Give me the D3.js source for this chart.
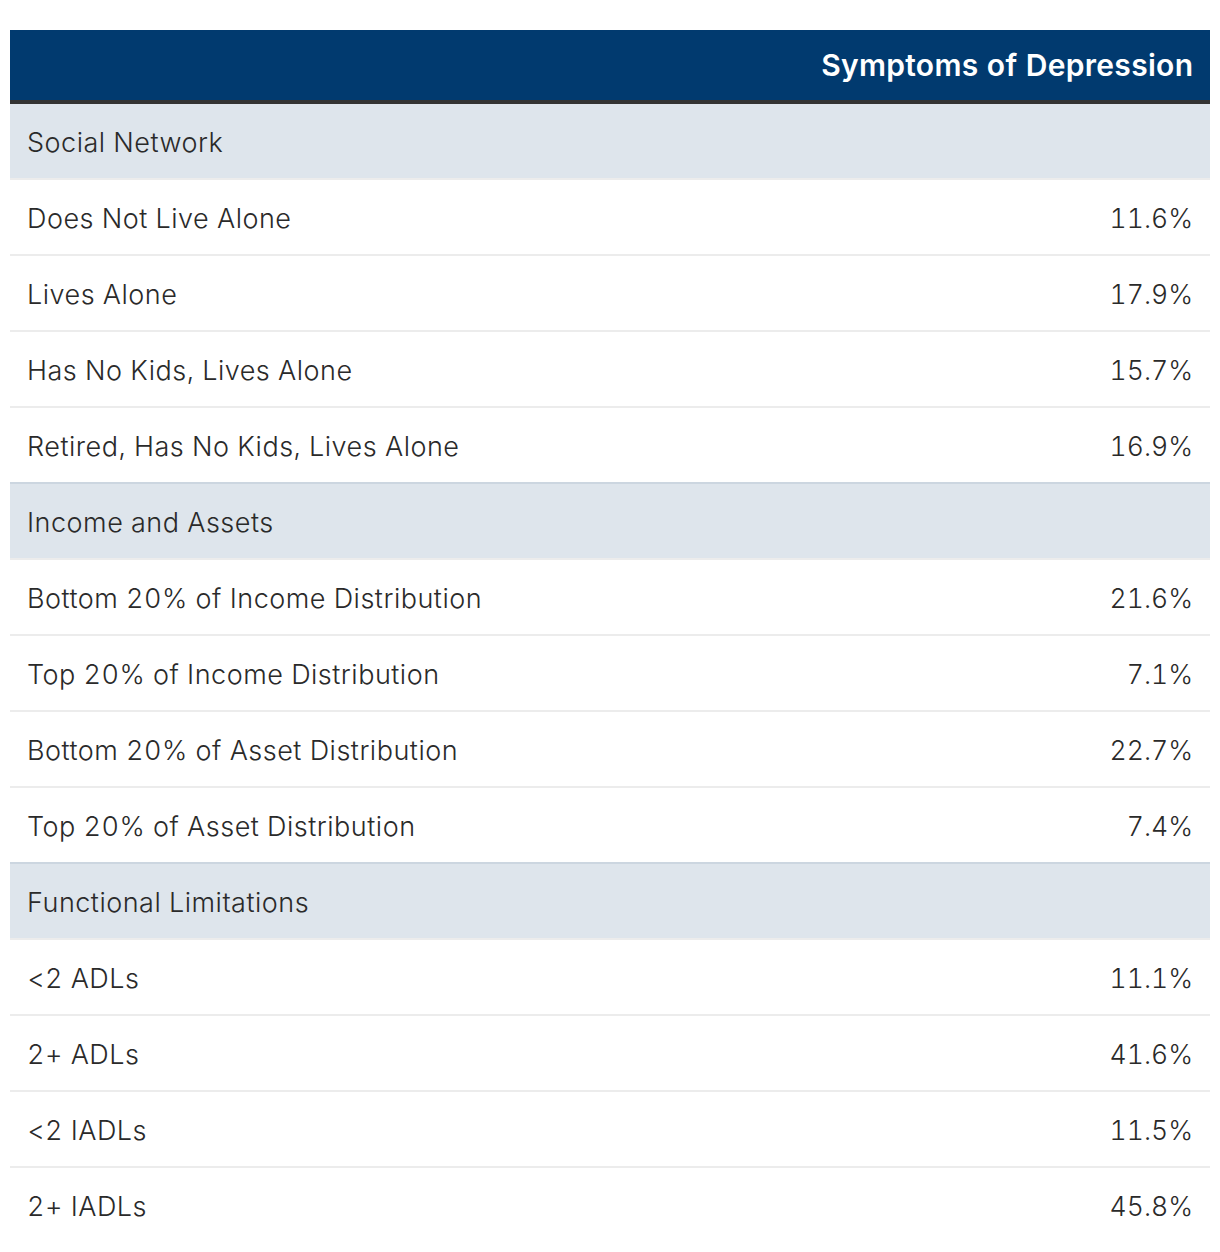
<!DOCTYPE html>
<html><head><meta charset="utf-8">
<script src="https://cdn.jsdelivr.net/npm/d3@7"></script>
<style>body{margin:0;background:#fff;font-family:Inter,"Noto Sans",sans-serif;}
text{font-variant-numeric:tabular-nums;font-feature-settings:"tnum" 1;}</style>
</head><body>
<svg id="chart" width="1220" height="1252"></svg>
<script>
const headerTitle = "Symptoms of Depression";
const sections = ["Social Network", "Income and Assets", "Functional Limitations"];
const labels = [
  ["Does Not Live Alone", "Lives Alone", "Has No Kids, Lives Alone", "Retired, Has No Kids, Lives Alone"],
  ["Bottom 20% of Income Distribution", "Top 20% of Income Distribution", "Bottom 20% of Asset Distribution", "Top 20% of Asset Distribution"],
  ["<2 ADLs", "2+ ADLs", "<2 IADLs", "2+ IADLs"]
];
const values = [
  [11.6, 17.9, 15.7, 16.9],
  [21.6, 7.1, 22.7, 7.4],
  [11.1, 41.6, 11.5, 45.8]
];

const rows = [];
sections.forEach((s, i) => {
  rows.push({type: "section", label: s});
  labels[i].forEach((l, j) => rows.push({type: "row", label: l, value: values[i][j]}));
});

const svg = d3.select("#chart");
const xLeft = 10, xRight = 1210, yTop = 30, headH = 70, borderH = 4, rowH = 76;
const ls = 0.5, lsv = 0;
const y = d3.scaleBand().domain(d3.range(rows.length)).range([yTop + headH + borderH, yTop + headH + borderH + rows.length * rowH]);

svg.append("rect").attr("x", xLeft).attr("y", yTop).attr("width", xRight - xLeft).attr("height", headH).attr("fill", "#013a6f");
svg.append("rect").attr("x", xLeft).attr("y", yTop + headH).attr("width", xRight - xLeft).attr("height", borderH).attr("fill", "#333333");
svg.append("text").attr("x", xRight - 17 + 0.3).attr("y", yTop + headH / 2 + 11)
  .attr("text-anchor", "end").attr("fill", "#fff").attr("font-size", 30).attr("font-weight", 600)
  .attr("letter-spacing", 0.3)
  .text(headerTitle);

const g = svg.selectAll("g.row").data(rows).join("g").attr("class", "row")
  .attr("transform", (d, i) => `translate(0,${y(i)})`);

g.append("rect").attr("x", xLeft).attr("y", 0).attr("width", xRight - xLeft).attr("height", rowH)
  .attr("fill", d => d.type === "section" ? "#dee5ec" : "#fff");
g.append("rect").attr("x", xLeft).attr("y", rowH - 2).attr("width", xRight - xLeft).attr("height", 2)
  .attr("fill", (d, i) => (i + 1 < rows.length && rows[i + 1].type === "section") ? "#ccd6e0" : "#ececec")
  .attr("display", (d, i) => i === rows.length - 1 ? "none" : null);

g.append("text").attr("x", 27).attr("y", rowH / 2 + 9.5)
  .attr("fill", "#2a2a2a").attr("font-size", 27).attr("font-weight", 300).attr("letter-spacing", ls)
  .text(d => d.label);
g.filter(d => d.type === "row").append("text").attr("x", xRight - 17 + lsv).attr("y", rowH / 2 + 9.5)
  .attr("text-anchor", "end").attr("fill", "#2a2a2a").attr("font-size", 26.5).attr("font-weight", 300).attr("letter-spacing", lsv)
  .text(d => d.value.toFixed(1) + "%");
</script>
</body></html>
